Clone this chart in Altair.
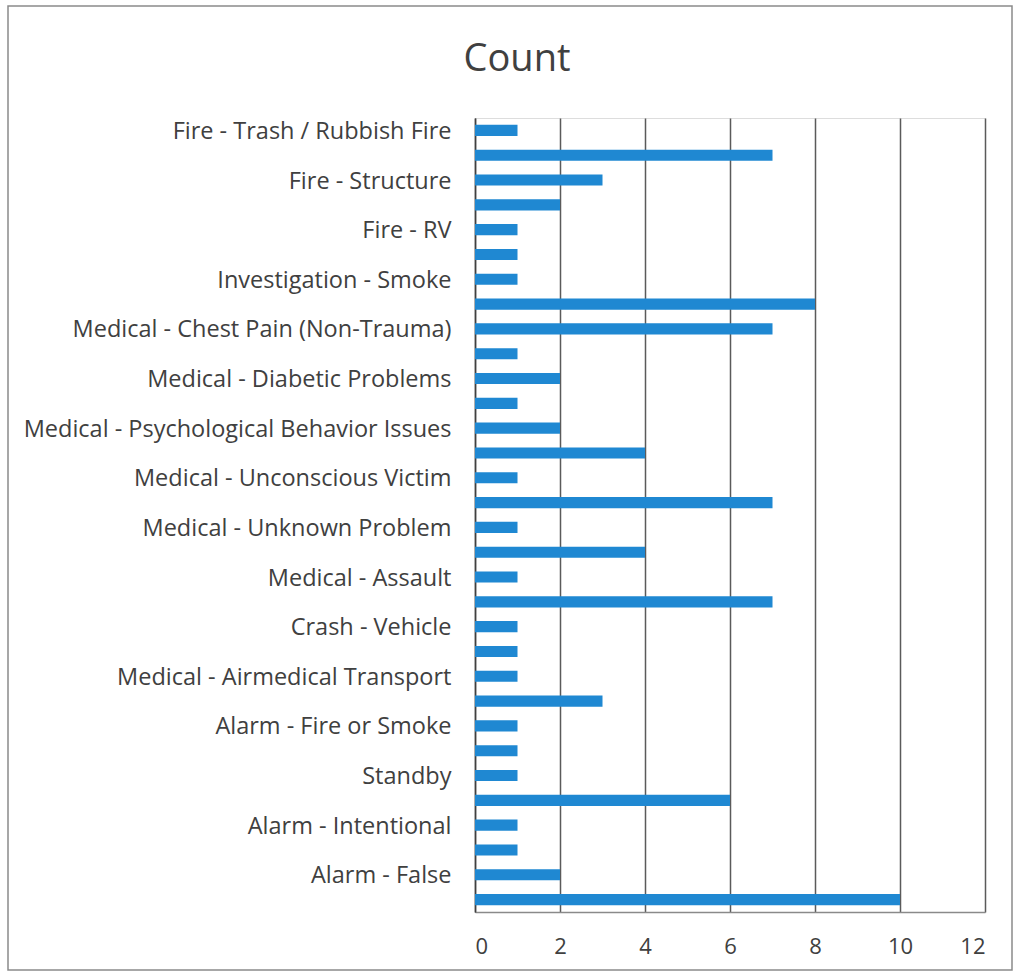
import altair as alt
import pandas as pd

labels = [
    "Fire - Trash / Rubbish Fire", "",
    "Fire - Structure", "",
    "Fire - RV", "",
    "Investigation - Smoke", "",
    "Medical - Chest Pain (Non-Trauma)", "",
    "Medical - Diabetic Problems", "",
    "Medical - Psychological Behavior Issues", "",
    "Medical - Unconscious Victim", "",
    "Medical - Unknown Problem", "",
    "Medical - Assault", "",
    "Crash - Vehicle", "",
    "Medical - Airmedical Transport", "",
    "Alarm - Fire or Smoke", "",
    "Standby", "",
    "Alarm - Intentional", "",
    "Alarm - False", "",
]
counts = [1, 7, 3, 2, 1, 1, 1, 8, 7, 1, 2, 1, 2, 4, 1, 7,
          1, 4, 1, 7, 1, 1, 1, 3, 1, 1, 1, 6, 1, 1, 2, 10]
x_ticks = [0, 2, 4, 6, 8, 10, 12]
title_text = "Count"

df = pd.DataFrame({"idx": list(range(len(counts))), "count": counts})

label_js = "[" + ",".join("'" + s.replace("'", "\\'") + "'" for s in labels) + "]"

FONT = "Open Sans"
TXT = "#404040"

bars = alt.Chart(df).mark_bar(color="#1f88d2").encode(
    x=alt.X("count:Q",
            scale=alt.Scale(domain=[0, 12], nice=False),
            axis=alt.Axis(values=x_ticks, title=None, grid=True, gridColor="#5a5a5a",
                          gridWidth=1.5, ticks=False, domainColor="#8a8a8a", domainWidth=1.5,
                          labelFontSize=22, labelColor=TXT, labelFont=FONT, labelPadding=24)),
    y=alt.Y("idx:O", sort=None,
            scale=alt.Scale(paddingInner=0.55, paddingOuter=0.275),
            axis=alt.Axis(title=None, ticks=False, domainColor="#404040", domainWidth=1.5,
                          labelExpr=label_js + "[datum.value]",
                          labelFontSize=23.5, labelColor=TXT, labelFont=FONT, labelPadding=24,
                          labelLimit=500, labelOffset=1.5)),
)

border = alt.Chart(pd.DataFrame({"a": [0]})).mark_rect(
    fill=None, stroke="#8a8a8a", strokeWidth=1.5, clip=False
).encode(x=alt.value(-467), x2=alt.value(537), y=alt.value(-112), y2=alt.value(852))

title = alt.Chart(pd.DataFrame({"t": [title_text]})).mark_text(
    fontSize=38, font=FONT, color=TXT, align="center", baseline="middle", clip=False
).encode(text="t:N", x=alt.value(42), y=alt.value(-58))

chart = alt.layer(border, bars, title).properties(
    width=510, height=794,
    padding={"left": 475, "top": 118, "right": 30, "bottom": 63},
    autosize=alt.AutoSizeParams(type="none"),
).configure_view(stroke=None).configure(background="white")

chart.save("out.html", embed_options={"renderer": "svg", "actions": False})
